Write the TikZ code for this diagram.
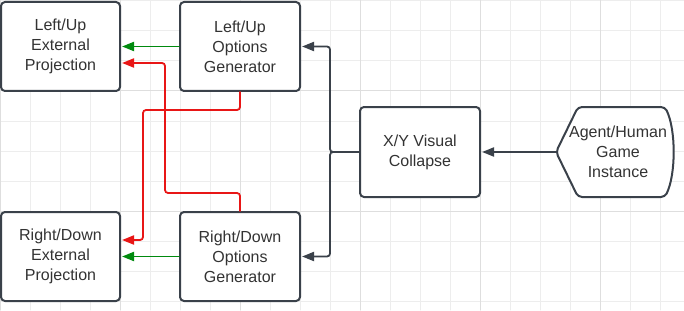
\documentclass[tikz,border=0pt]{standalone}
\usepackage{fontspec}
\setmainfont{Liberation Sans}
\usetikzlibrary{arrows.meta,calc}
\definecolor{slate}{RGB}{58,65,74}
\definecolor{leafgreen}{RGB}{0,138,14}
\definecolor{alarmred}{RGB}{232,22,22}
\definecolor{gridminor}{RGB}{237,237,237}
\definecolor{gridmajor}{RGB}{222,222,222}
\definecolor{inktext}{RGB}{51,51,51}

\begin{document}
\begin{tikzpicture}[x=1pt,y=-1pt,line cap=round,
  block/.style={draw=slate,line width=2pt,rounded corners=4pt,fill=white,minimum width=120pt,minimum height=89pt,
                align=center,inner sep=0pt,font=\fontsize{16}{20}\selectfont,text=inktext},
  link/.style={line width=1.8pt,rounded corners=3pt,-{Triangle[length=12pt,width=9pt]},shorten >=1pt}]
  \useasboundingbox (0,0) rectangle (684,310);
  % grid
  \foreach \x in {0,30,...,660} \draw[gridminor,line width=1pt] (\x,0) -- (\x,310);
  \foreach \y in {1,31,...,301} \draw[gridminor,line width=1pt] (0,\y) -- (684,\y);
  \foreach \x in {0,120,...,600} \draw[gridmajor,line width=1pt] (\x,0) -- (\x,310);
  \foreach \y in {91,211} \draw[gridmajor,line width=1pt] (0,\y) -- (684,\y);
  % boxes
  \node[block,minimum width=119pt] (luep) at (60.5,46.5) {Left/Up\\External\\Projection};
  \node[block] (luog) at (240,46.5) {Left/Up\\Options\\Generator};
  \node[block,minimum width=119pt] (rdep) at (60.5,256.5) {Right/Down\\External\\Projection};
  \node[block] (rdog) at (240,256.5) {Right/Down\\Options\\Generator};
  \node[block,minimum height=90pt] (xyvc) at (420,152) {X/Y Visual\\Collapse};
  % game instance (display shape)
  \draw[slate,line width=2pt,fill=white,rounded corners=4pt] (578,107) -- (665,107)
      .. controls (676,130) and (676,174) .. (665,197) -- (578,197) -- (556,152) -- cycle;
  \coordinate (agenttip) at (556,152);
  \node[align=center,inner sep=0pt,font=\fontsize{16}{20}\selectfont,text=inktext] (agent) at (618,152) {Agent/Human\\Game\\Instance};
  % connectors
  \coordinate (fork) at (330,152);
  \draw[link,slate] (agenttip) -- (xyvc.east);
  \draw[link,slate] (xyvc.west) -- (fork) -- (fork |- luog.east) -- (luog.east);
  \draw[link,slate] (xyvc.west) -- (fork) -- (fork |- rdog.east) -- (rdog.east);
  \draw[link,leafgreen] (luog.west) -- (luep.east);
  \draw[link,leafgreen] (rdog.west) -- (rdep.east);
  \draw[link,alarmred] (luog.south) |- (143,110) |- ($(rdep.east)+(0,-16.5)$);
  \draw[link,alarmred] (rdog.north) |- (165,193) |- ($(luep.east)+(0,16.5)$);
\end{tikzpicture}
\end{document}
